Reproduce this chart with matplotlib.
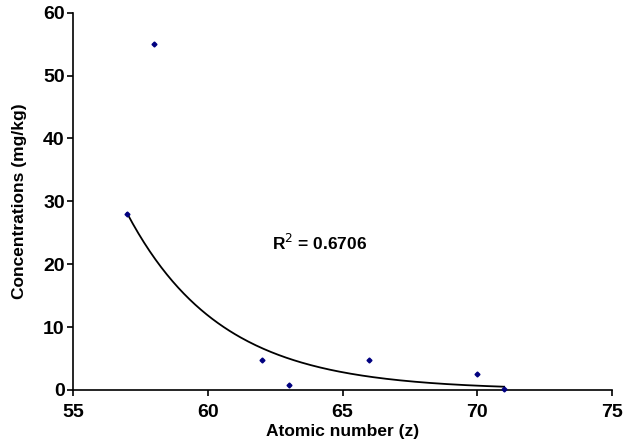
import numpy as np
import matplotlib
matplotlib.use('Agg')
import matplotlib.pyplot as plt

# Данные
atomic_number = [57, 58, 62, 63, 66, 70, 71]
concentration = [28.0, 55.0, 4.7, 0.8, 4.7, 2.5, 0.2]
r2_label = 'R$^2$ = 0.6706'

x_ticks = [55, 60, 65, 70, 75]
y_ticks = [0, 10, 20, 30, 40, 50, 60]

plt.rcParams['font.family'] = ['Liberation Sans', 'DejaVu Sans']

fig = plt.figure(figsize=(6.42, 4.41), dpi=100)
ax = fig.add_axes([0.114, 0.116, 0.839, 0.855])

# Экспоненциальный тренд (как в Excel: линейная регрессия по ln(y))
b, ln_a = np.polyfit(atomic_number, np.log(concentration), 1)
xs = np.linspace(min(atomic_number), max(atomic_number), 200)
ax.plot(xs, np.exp(ln_a + b * xs), color='black', lw=1.3, zorder=2)

ax.plot(atomic_number, concentration, 'D', color='#000080', ms=2.5,
        mec='#000080', zorder=3, clip_on=False)

ax.text(62.4, 23.4, r2_label, fontsize=12.5, fontweight='bold', va='center')

ax.set_xlim(55, 75)
ax.set_ylim(0, 60)
ax.set_xticks(x_ticks)
ax.set_yticks(y_ticks)
for s in ['top', 'right']:
    ax.spines[s].set_visible(False)
for s in ['left', 'bottom']:
    ax.spines[s].set_linewidth(1.2)
ax.tick_params(direction='out', length=4, width=1.2, labelsize=14)
ax.tick_params(axis='x', pad=6)
ax.tick_params(axis='y', pad=2)
for lbl in ax.get_xticklabels() + ax.get_yticklabels():
    lbl.set_fontweight('bold')

ax.set_xlabel('Atomic number (z)', fontsize=12.5, fontweight='bold', labelpad=2)
ax.set_ylabel('Concentrations (mg/kg)', fontsize=12.5, fontweight='bold', labelpad=12)

fig.savefig('out.png', dpi=100)
